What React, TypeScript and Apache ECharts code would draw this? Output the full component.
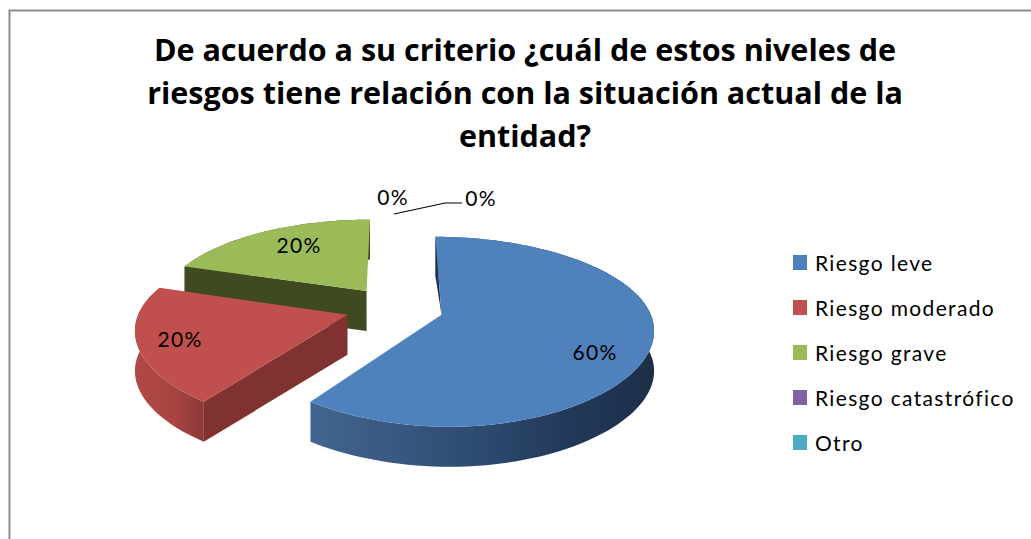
import React, { useEffect, useRef } from "react";
import * as echarts from "echarts";

const titleLines = [
  "De acuerdo a su criterio ¿cuál de estos niveles de",
  "riesgos tiene relación con la situación actual de la",
  "entidad?",
];
const categories = ["Riesgo leve", "Riesgo moderado", "Riesgo grave", "Riesgo catastrófico", "Otro"];
const shares = [60, 20, 20, 0, 0];
const colors = ["#4f81bd", "#c0504d", "#9bbb59", "#8064a2", "#4bacc6"];

const total = shares.reduce((a, b) => a + b, 0);
const toRad = (d: number) => (d * Math.PI) / 180;

// pie projection (perspective view of an exploded pie)
const view = { cx: 394.5, cy: 308, rx: 202, ry: 89.5, kx: 0.145, ky: 0.1765, depth: 40, explode: 0.242, bulge: 0.025 };
const labelSpots = [
  [595, 351],
  [180, 338],
  [299, 244],
  [393, 196],
  [481, 197],
];
const leader = [
  [394, 214],
  [445, 203],
  [462, 203],
];
const sideStops = [
  [[0, "#42668f"], [0.45, "#2f4d73"], [0.75, "#22395a"], [1, "#1c2f48"]],
  [[0, "#b14946"], [0.6, "#a64441"], [1, "#8c3a37"]],
  [[0, "#3f4a20"], [1, "#3f4a20"]],
];
const wallColors = ["#1f3350", "#7f3230", "#3f4a20"];

function project(X: number, Y: number): [number, number] {
  return [view.cx + (view.rx * X) / (1 - view.kx * Y), view.cy + (view.ry * Y) / (1 - view.ky * Y)];
}

function sliceGeometry(i: number) {
  let start = 0;
  for (let j = 0; j < i; j++) start += (shares[j] / total) * 360;
  const sweep = (shares[i] / total) * 360;
  const mid = toRad(start + sweep / 2);
  const ax = Math.sin(mid) * view.explode;
  const ay = -Math.cos(mid) * view.explode;
  const arc: [number, number][] = [];
  const steps = Math.max(2, Math.round(sweep / 2));
  for (let n = 0; n <= steps; n++) {
    const a = toRad(start + (sweep * n) / steps);
    const sx = Math.sin(a);
    arc.push(project(ax + sx * (1 + view.bulge * sx * sx), ay - Math.cos(a)));
  }
  return { apex: project(ax, ay), arc };
}

const down = (p: [number, number]): [number, number] => [p[0], p[1] + view.depth];

function makeRender(i: number) {
  return () => {
    const children: any[] = [];
    if (shares[i] > 0) {
      const { apex, arc } = sliceGeometry(i);
      const first = arc[0];
      const side = [...arc, ...arc.map(down).reverse()];
      const gradient = new echarts.graphic.LinearGradient(
        0,
        0,
        1,
        0,
        sideStops[i].map(([offset, color]) => ({ offset: offset as number, color: color as string }))
      );
      children.push({ type: "polygon", shape: { points: side }, style: { fill: gradient } });
      const wall = i === 0 ? [first, apex, down(first)] : [first, apex, down(apex), down(first)];
      children.push({ type: "polygon", shape: { points: wall }, style: { fill: wallColors[i] } });
      children.push({
        type: "polygon",
        shape: { points: [apex, ...arc] },
        style: { fill: colors[i] },
      });
    }
    if (i === 4) {
      children.push({
        type: "polyline",
        shape: { points: leader },
        style: { fill: "none", stroke: "#000000", lineWidth: 1.2 },
      });
    }
    children.push({
      type: "text",
      style: {
        x: labelSpots[i][0],
        y: labelSpots[i][1],
        text: `${Math.round((shares[i] / total) * 100)}%`,
        fill: "#000000",
        fontSize: 21,
        fontFamily: "Lato",
        textAlign: "center",
        textVerticalAlign: "middle",
      },
    });
    return { type: "group", children };
  };
}

const zOrder = [3, 2, 1, 4, 5];

export default function App() {
  const ref = useRef<HTMLDivElement>(null);
  useEffect(() => {
    document.body.style.margin = "0";
    const chart = echarts.init(ref.current!, null, { renderer: "svg" });
    chart.setOption({
      animation: false,
      backgroundColor: "#ffffff",
      title: {
        text: titleLines.join("\n"),
        left: 520,
        top: 22,
        textAlign: "center",
        textStyle: {
          fontFamily: "Open Sans",
          fontWeight: "bold",
          fontSize: 30.5,
          lineHeight: 43,
          color: "#000000",
        },
      },
      legend: {
        orient: "vertical",
        left: 788,
        top: 247,
        icon: "rect",
        itemWidth: 14,
        itemHeight: 15,
        itemGap: 24,
        selectedMode: false,
        data: categories,
        textStyle: { fontFamily: "Lato", fontSize: 21, color: "#000000", padding: [0, 0, 0, 3] },
      },
      graphic: [
        {
          type: "rect",
          silent: true,
          z: -1,
          shape: { x: 9.5, y: 10.5, width: 1100, height: 600 },
          style: { fill: "none", stroke: "#8c8c8c", lineWidth: 2 },
        },
      ],
      series: categories.map((name, i) => ({
        type: "custom",
        name,
        coordinateSystem: "none",
        silent: true,
        z: zOrder[i],
        itemStyle: { color: colors[i] },
        data: [shares[i]],
        renderItem: makeRender(i),
      })),
    });
    return () => chart.dispose();
  }, []);
  return (
    <div ref={ref} style={{ width: 1031, height: 539, fontVariantLigatures: "none" }}>
      <style>{`text[style*="Lato"]{letter-spacing:1.35px}`}</style>
    </div>
  );
}
